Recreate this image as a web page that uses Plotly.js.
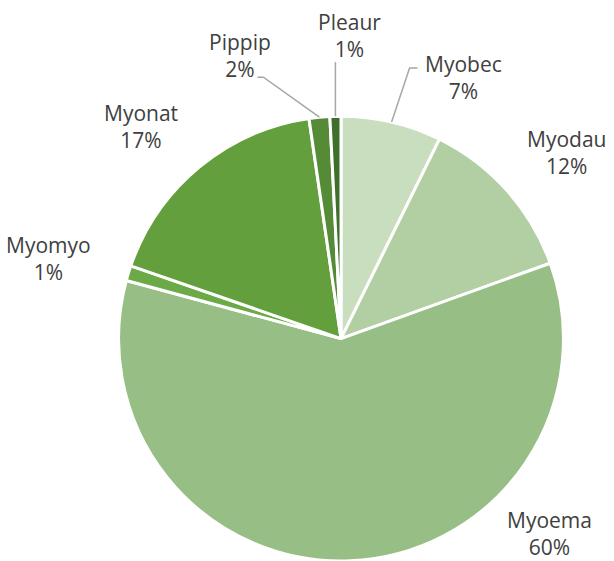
<!DOCTYPE html>
<html>
<head>
<meta charset="utf-8">
<script src="https://cdn.plot.ly/plotly-3.0.1.min.js"></script>
<style>
  html, body { margin: 0; padding: 0; background: #ffffff; }
  #chart { width: 614px; height: 561px; }
</style>
</head>
<body>
<div id="chart"></div>
<script>
// ---- data ----
var species = ["Myobec", "Myodau", "Myoema", "Myomyo", "Myonat", "Pippip", "Pleaur"];
var shares  = [7.3, 12.2, 59.7, 1.1, 17.4, 1.5, 0.8];

// ---- style ----
var sliceColors = ["#C9DDBF", "#B2CFA3", "#97BE84", "#6CAA48", "#63A03D", "#558A36", "#3F7029"];
// label centre offset (px) from the slice's mid point on the rim
var labelOffsets = [[72, -44], [60, -38], [199, -27], [-80, -15], [-58, -41], [-79, -62], [14, -81]];
// leader lines: list of offsets (px) from the rim mid point, null if none
var leaders = [[[18, -54], [26, -54]], null, null, null, null, [[-56, -40], [-62, -40]], [[0, -54]]];

var W = 614, H = 561;
var dom = { x: [0.1922, 0.9186], y: [0, 0.793] };
var cx = (dom.x[0] + dom.x[1]) / 2 * W;
var cy = H - (dom.y[0] + dom.y[1]) / 2 * H;
var R = Math.min((dom.x[1] - dom.x[0]) * W, (dom.y[1] - dom.y[0]) * H) / 2;

var total = shares.reduce(function (a, b) { return a + b; }, 0);
var annotations = [], shapes = [];
var cum = 0;
function px2paper(p) { return [p[0] / W, 1 - p[1] / H]; }
for (var i = 0; i < shares.length; i++) {
  var mid = (cum + shares[i] / 2) / total * 2 * Math.PI;
  cum += shares[i];
  var ax = cx + R * Math.sin(mid), ay = cy - R * Math.cos(mid);
  var pp = px2paper([ax, ay]);
  var pct = Math.round(shares[i] / total * 100);
  annotations.push({
    x: pp[0], y: pp[1], xref: "paper", yref: "paper",
    text: species[i] + "<br>" + pct + "%",
    showarrow: false,
    xshift: labelOffsets[i][0], yshift: -labelOffsets[i][1],
    xanchor: "center", yanchor: "middle", align: "center",
    font: { family: "Open Sans, sans-serif", size: 21, color: "#404040" }
  });
  if (leaders[i]) {
    var path = "M " + pp[0] + " " + pp[1];
    leaders[i].forEach(function (o) {
      var q = px2paper([ax + o[0], ay + o[1]]);
      path += " L " + q[0] + " " + q[1];
    });
    shapes.push({ type: "path", xref: "paper", yref: "paper", path: path,
                  line: { color: "#A6A6A6", width: 1.5 } });
  }
}

var trace = {
  type: "pie",
  labels: species,
  values: shares,
  sort: false,
  direction: "clockwise",
  rotation: 0,
  textinfo: "none",
  hoverinfo: "none",
  marker: { colors: sliceColors, line: { color: "#FFFFFF", width: 3 } },
  domain: dom
};

var layout = {
  width: W, height: H,
  margin: { l: 0, r: 0, t: 0, b: 0 },
  showlegend: false,
  paper_bgcolor: "#FFFFFF",
  annotations: annotations,
  shapes: shapes
};

Plotly.newPlot("chart", [trace], layout, { displayModeBar: false, staticPlot: true });
</script>
</body>
</html>
